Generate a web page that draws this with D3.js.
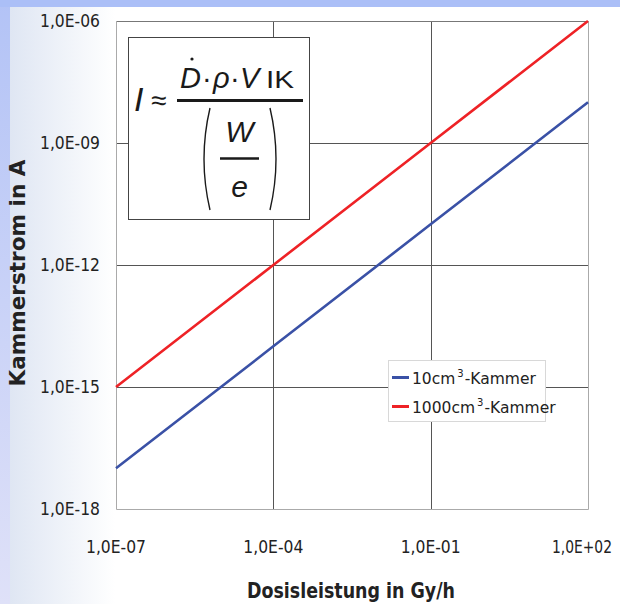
<!DOCTYPE html>
<html>
<head>
<meta charset="utf-8">
<script src="https://cdn.jsdelivr.net/npm/d3@7"></script>
<style>
  html, body { margin: 0; padding: 0; background: #fff; }
  svg { display: block; }
  .tick-label { font-family: "DejaVu Sans", sans-serif; font-size: 18px; fill: #222; }
  .axis-title { font-family: "DejaVu Sans", sans-serif; font-weight: bold; font-size: 22px; fill: #222; }
  .legend-text { font-family: "DejaVu Sans", sans-serif; font-size: 15.5px; fill: #222; }
  .eq { font-family: "Liberation Sans", Arial, sans-serif; fill: #1a1a1a; }
</style>
</head>
<body>
<div id="chart"></div>
<script>
// data
const doseRate = [1e-7, 1e-4, 1e-1, 1e2];             // Gy/h
const current10 = [1e-17, 1e-14, 1e-11, 1e-8];        // A, 10cm3 chamber
const current1000 = [1e-15, 1e-12, 1e-9, 1e-6];       // A, 1000cm3 chamber
const xTicks = [1e-7, 1e-4, 1e-1, 1e2];
const xTickLabels = ["1,0E-07", "1,0E-04", "1,0E-01", "1,0E+02"];
const yTicks = [1e-18, 1e-15, 1e-12, 1e-9, 1e-6];
const yTickLabels = ["1,0E-18", "1,0E-15", "1,0E-12", "1,0E-09", "1,0E-06"];
const seriesNames = ["10cm", "1000cm"];
const seriesColors = ["#3a51a6", "#ee2226"];

const width = 620, height = 604;
const plot = { left: 116, top: 21, right: 588, bottom: 509 };

const svg = d3.select("#chart").append("svg")
  .attr("width", width)
  .attr("height", height);

// slide background bits
const defs = svg.append("defs");
const gl = defs.append("linearGradient").attr("id", "leftFade").attr("x1", 0).attr("x2", 1).attr("y1", 0).attr("y2", 0);
gl.append("stop").attr("offset", "0%").attr("stop-color", "#dfe6f3");
gl.append("stop").attr("offset", "60%").attr("stop-color", "#f2f5fa");
gl.append("stop").attr("offset", "100%").attr("stop-color", "#ffffff");
const gs = defs.append("linearGradient").attr("id", "strip").attr("x1", 0).attr("x2", 0).attr("y1", 0).attr("y2", 1);
gs.append("stop").attr("offset", "0%").attr("stop-color", "#b3c3f6");
gs.append("stop").attr("offset", "100%").attr("stop-color", "#dfe1f8");

svg.append("rect").attr("x", 10).attr("y", 7).attr("width", 105).attr("height", height - 7).attr("fill", "url(#leftFade)");
svg.append("rect").attr("x", 0).attr("y", 0).attr("width", 10).attr("height", height).attr("fill", "url(#strip)");
svg.append("rect").attr("x", 0).attr("y", 0).attr("width", width).attr("height", 7).attr("fill", "#abbff7");

const x = d3.scaleLog().domain([1e-7, 1e2]).range([plot.left, plot.right]);
const y = d3.scaleLog().domain([1e-18, 1e-6]).range([plot.bottom, plot.top]);

// plot area
svg.append("rect")
  .attr("x", plot.left).attr("y", plot.top)
  .attr("width", plot.right - plot.left).attr("height", plot.bottom - plot.top)
  .attr("fill", "#fff");

// grid
const grid = svg.append("g");
grid.selectAll(".gx").data(xTicks.slice(1, -1)).join("line")
  .attr("x1", d => Math.round(x(d)) + 0.5).attr("x2", d => Math.round(x(d)) + 0.5)
  .attr("y1", plot.top).attr("y2", plot.bottom)
  .attr("stroke", "#555").attr("stroke-width", 1);
grid.selectAll(".gy").data(yTicks.slice(1)).join("line")
  .attr("x1", plot.left).attr("x2", plot.right)
  .attr("y1", d => Math.round(y(d)) + 0.5).attr("y2", d => Math.round(y(d)) + 0.5)
  .attr("stroke", d => d === 1e-6 ? "#777" : "#555").attr("stroke-width", 1);
// light frame on left, right, bottom
svg.append("path")
  .attr("d", `M${plot.left + 0.5},${plot.top}V${plot.bottom + 0.5}H${plot.right + 0.5}V${plot.top}`)
  .attr("fill", "none").attr("stroke", "#aaa").attr("stroke-width", 1);

// tick labels (squeezed a bit, the original face is narrow)
svg.selectAll(".ylab").data(yTicks).join("text")
  .attr("class", "tick-label")
  .attr("x", 100).attr("y", d => y(d))
  .attr("dy", "0.36em")
  .attr("text-anchor", "end")
  .attr("textLength", 60).attr("lengthAdjust", "spacingAndGlyphs")
  .text((d, i) => yTickLabels[i]);

svg.selectAll(".xlab").data(xTicks).join("text")
  .attr("class", "tick-label")
  .attr("x", (d, i) => i === 3 ? x(d) - 6 : x(d)).attr("y", 553)
  .attr("text-anchor", "middle")
  .attr("textLength", 60).attr("lengthAdjust", "spacingAndGlyphs")
  .text((d, i) => xTickLabels[i]);

// axis titles
svg.append("text").attr("class", "axis-title")
  .attr("x", 351).attr("y", 598)
  .attr("text-anchor", "middle")
  .attr("textLength", 208).attr("lengthAdjust", "spacingAndGlyphs")
  .text("Dosisleistung in Gy/h");
svg.append("text").attr("class", "axis-title")
  .attr("transform", "translate(25,273) rotate(-90)")
  .attr("text-anchor", "middle")
  .attr("textLength", 227).attr("lengthAdjust", "spacingAndGlyphs")
  .text("Kammerstrom in A");

// lines
const line = d3.line().x(d => x(d[0])).y(d => y(d[1]));
[current10, current1000].forEach((vals, i) => {
  svg.append("path")
    .datum(doseRate.map((d, j) => [d, vals[j]]))
    .attr("d", line)
    .attr("fill", "none")
    .attr("stroke", seriesColors[i])
    .attr("stroke-width", 2.6);
});

// equation box
const eq = svg.append("g");
eq.append("rect").attr("x", 128.5).attr("y", 37.5).attr("width", 181).attr("height", 182)
  .attr("fill", "#fff").attr("stroke", "#444").attr("stroke-width", 1);
eq.append("text").attr("class", "eq").attr("x", 134).attr("y", 111)
  .attr("font-size", 34).attr("font-style", "italic").text("I");
eq.append("text").attr("class", "eq").attr("x", 151).attr("y", 110)
  .attr("font-size", 28).text("≈");
eq.append("line").attr("x1", 177).attr("x2", 303).attr("y1", 100.5).attr("y2", 100.5)
  .attr("stroke", "#1a1a1a").attr("stroke-width", 3);
const num = eq.append("text").attr("class", "eq").attr("y", 88).attr("font-size", 29);
num.append("tspan").attr("x", 180).attr("font-style", "italic").text("D");
num.append("tspan").attr("x", 202).text("·");
num.append("tspan").attr("x", 213).attr("font-style", "italic").text("ρ");
num.append("tspan").attr("x", 230).text("·");
num.append("tspan").attr("x", 240).attr("font-style", "italic").text("V");
eq.append("text").attr("class", "eq").attr("x", 266).attr("y", 88).attr("font-size", 23)
  .attr("textLength", 28).attr("lengthAdjust", "spacingAndGlyphs").text("IK");
eq.append("circle").attr("cx", 192).attr("cy", 59).attr("r", 1.6).attr("fill", "#1a1a1a");
// big parentheses
eq.append("path").attr("d", "M210,108 Q198,159 210,210").attr("fill", "none").attr("stroke", "#1a1a1a").attr("stroke-width", 1.4);
eq.append("path").attr("d", "M270,108 Q282,159 270,210").attr("fill", "none").attr("stroke", "#1a1a1a").attr("stroke-width", 1.4);
eq.append("text").attr("class", "eq").attr("x", 239.5).attr("y", 142).attr("text-anchor", "middle")
  .attr("font-size", 30).attr("font-style", "italic").text("W");
eq.append("line").attr("x1", 220).attr("x2", 259).attr("y1", 158.5).attr("y2", 158.5)
  .attr("stroke", "#1a1a1a").attr("stroke-width", 2.4);
eq.append("text").attr("class", "eq").attr("x", 239.5).attr("y", 197).attr("text-anchor", "middle")
  .attr("font-size", 30).attr("font-style", "italic").text("e");

// legend
const lg = svg.append("g");
lg.append("rect").attr("x", 388.5).attr("y", 360.5).attr("width", 157).attr("height", 61)
  .attr("fill", "#fff").attr("stroke", "#d8d8d8");
seriesNames.forEach((name, i) => {
  const ly = 377.5 + i * 29;
  lg.append("line").attr("x1", 392).attr("x2", 409).attr("y1", ly).attr("y2", ly)
    .attr("stroke", seriesColors[i]).attr("stroke-width", 3);
  const t = lg.append("text").attr("class", "legend-text").attr("x", 412).attr("y", ly + 6);
  t.append("tspan").text(name);
  t.append("tspan").attr("font-size", 10).attr("dy", -7).attr("dx", 2).text("3");
  t.append("tspan").attr("dy", 7).attr("dx", 1).text("-Kammer");
});
</script>
</body>
</html>
